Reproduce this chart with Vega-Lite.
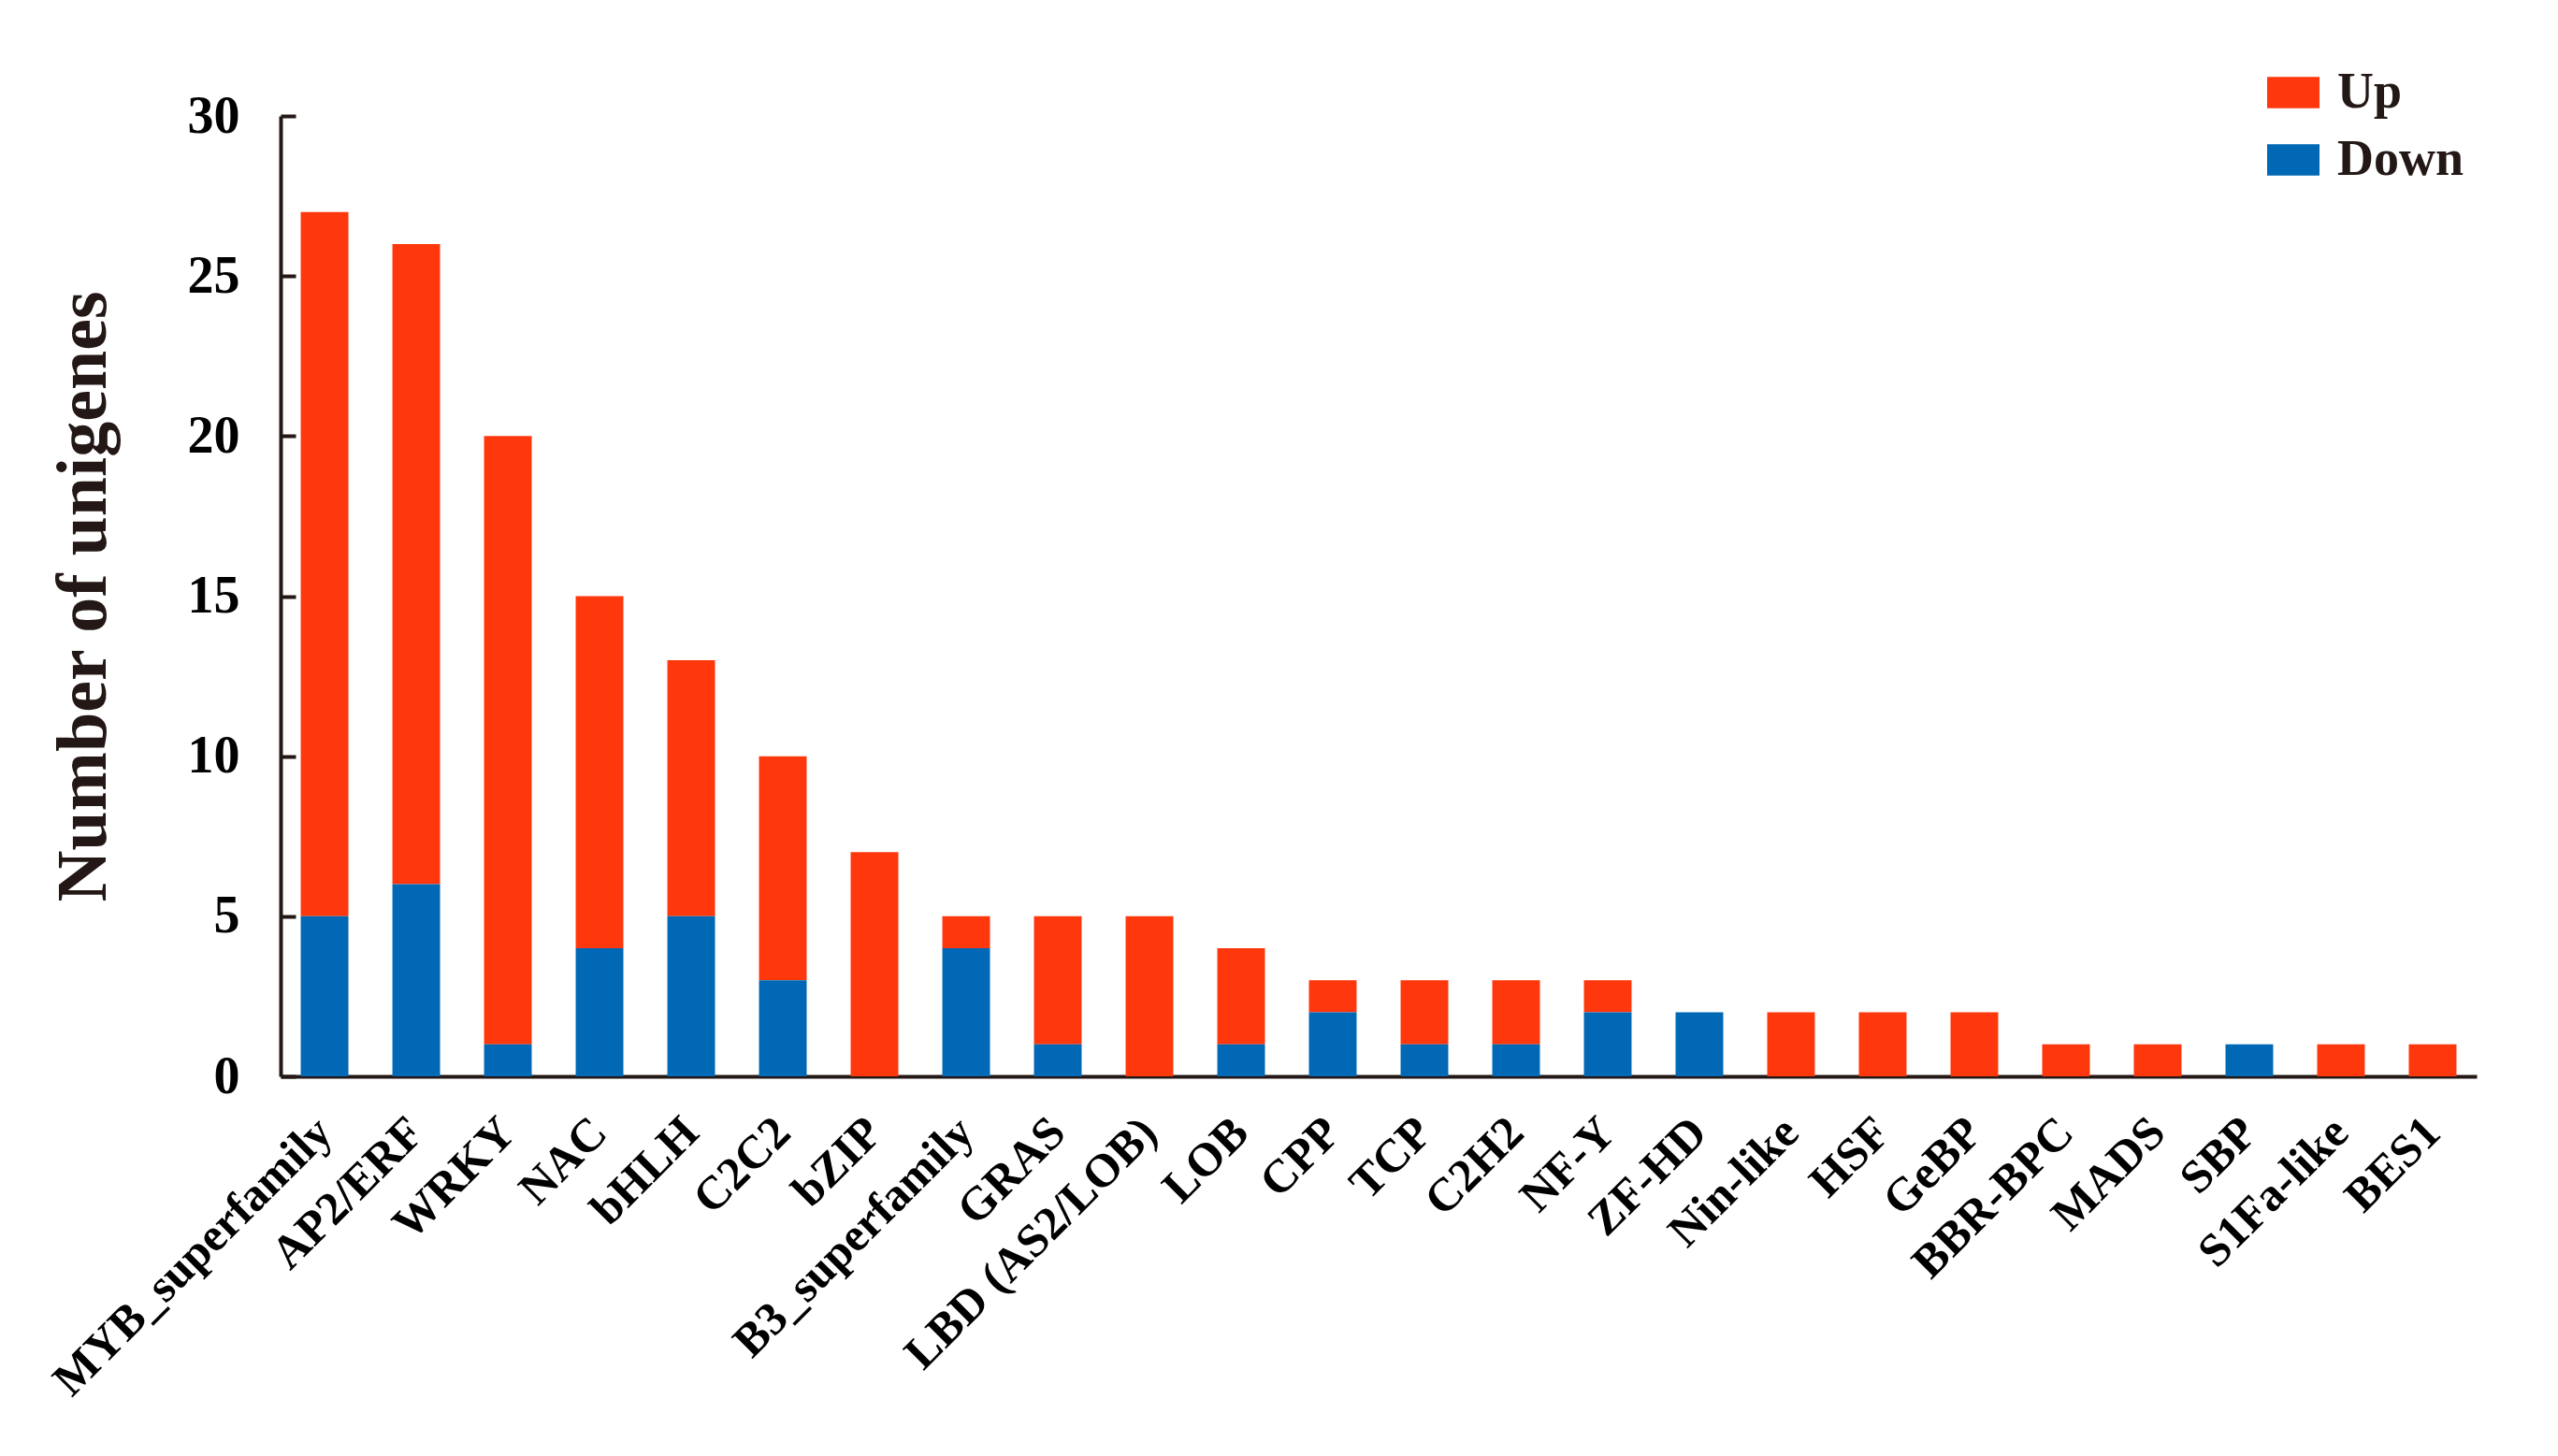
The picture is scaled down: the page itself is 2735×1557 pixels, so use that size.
{
  "$schema": "https://vega.github.io/schema/vega-lite/v6.json",
  "width": 2348,
  "height": 1027,
  "autosize": {"type": "none"},
  "padding": {"left": 300, "top": 124, "right": 87, "bottom": 406},
  "background": "white",
  "config": {
    "view": {"stroke": null},
    "font": "Liberation Serif"
  },
  "data": {
    "values": [
      {"family": "MYB_superfamily", "type": "Up", "count": 22},
      {"family": "MYB_superfamily", "type": "Down", "count": 5},
      {"family": "AP2/ERF", "type": "Up", "count": 20},
      {"family": "AP2/ERF", "type": "Down", "count": 6},
      {"family": "WRKY", "type": "Up", "count": 19},
      {"family": "WRKY", "type": "Down", "count": 1},
      {"family": "NAC", "type": "Up", "count": 11},
      {"family": "NAC", "type": "Down", "count": 4},
      {"family": "bHLH", "type": "Up", "count": 8},
      {"family": "bHLH", "type": "Down", "count": 5},
      {"family": "C2C2", "type": "Up", "count": 7},
      {"family": "C2C2", "type": "Down", "count": 3},
      {"family": "bZIP", "type": "Up", "count": 7},
      {"family": "bZIP", "type": "Down", "count": 0},
      {"family": "B3_superfamily", "type": "Up", "count": 1},
      {"family": "B3_superfamily", "type": "Down", "count": 4},
      {"family": "GRAS", "type": "Up", "count": 4},
      {"family": "GRAS", "type": "Down", "count": 1},
      {"family": "LBD (AS2/LOB)", "type": "Up", "count": 5},
      {"family": "LBD (AS2/LOB)", "type": "Down", "count": 0},
      {"family": "LOB", "type": "Up", "count": 3},
      {"family": "LOB", "type": "Down", "count": 1},
      {"family": "CPP", "type": "Up", "count": 1},
      {"family": "CPP", "type": "Down", "count": 2},
      {"family": "TCP", "type": "Up", "count": 2},
      {"family": "TCP", "type": "Down", "count": 1},
      {"family": "C2H2", "type": "Up", "count": 2},
      {"family": "C2H2", "type": "Down", "count": 1},
      {"family": "NF-Y", "type": "Up", "count": 1},
      {"family": "NF-Y", "type": "Down", "count": 2},
      {"family": "ZF-HD", "type": "Up", "count": 0},
      {"family": "ZF-HD", "type": "Down", "count": 2},
      {"family": "Nin-like", "type": "Up", "count": 2},
      {"family": "Nin-like", "type": "Down", "count": 0},
      {"family": "HSF", "type": "Up", "count": 2},
      {"family": "HSF", "type": "Down", "count": 0},
      {"family": "GeBP", "type": "Up", "count": 2},
      {"family": "GeBP", "type": "Down", "count": 0},
      {"family": "BBR-BPC", "type": "Up", "count": 1},
      {"family": "BBR-BPC", "type": "Down", "count": 0},
      {"family": "MADS", "type": "Up", "count": 1},
      {"family": "MADS", "type": "Down", "count": 0},
      {"family": "SBP", "type": "Up", "count": 0},
      {"family": "SBP", "type": "Down", "count": 1},
      {"family": "S1Fa-like", "type": "Up", "count": 1},
      {"family": "S1Fa-like", "type": "Down", "count": 0},
      {"family": "BES1", "type": "Up", "count": 1},
      {"family": "BES1", "type": "Down", "count": 0}
    ]
  },
  "mark": {"type": "bar"},
  "encoding": {
    "x": {
      "field": "family",
      "type": "nominal",
      "sort": null,
      "scale": {"paddingInner": 0.48, "paddingOuter": 0.22},
      "axis": {
        "title": null,
        "labelAngle": -45,
        "labelAlign": "right",
        "labelBaseline": "middle",
        "labelFont": "Liberation Serif",
        "labelFontWeight": "bold",
        "labelFontSize": 50,
        "labelColor": "#000000",
        "labelPadding": 52,
        "ticks": false,
        "domainColor": "#231815",
        "domainWidth": 4,
        "labelOverlap": false,
        "labelLimit": 1000
      }
    },
    "y": {
      "field": "count",
      "type": "quantitative",
      "stack": "zero",
      "scale": {"domain": [0, 30], "nice": false},
      "axis": {
        "title": "Number of unigenes",
        "titleFont": "Liberation Serif",
        "titleFontWeight": "bold",
        "titleFontSize": 76,
        "titleColor": "#231815",
        "titlePadding": 72,
        "values": [0, 5, 10, 15, 20, 25, 30],
        "grid": false,
        "labelFont": "Liberation Serif",
        "labelFontWeight": "bold",
        "labelFontSize": 56,
        "labelColor": "#000000",
        "labelPadding": 60,
        "tickSize": -16,
        "tickWidth": 4,
        "tickColor": "#231815",
        "domainColor": "#231815",
        "domainWidth": 4
      }
    },
    "color": {
      "field": "type",
      "type": "nominal",
      "scale": {"domain": ["Up", "Down"], "range": ["#FF370D", "#0068B4"]},
      "legend": {
        "title": null,
        "orient": "none",
        "legendX": 2124,
        "legendY": -53,
        "padding": 0,
        "symbolType": "M-1,-0.6H1V0.6H-1Z",
        "symbolSize": 3136,
        "symbolStrokeWidth": 0,
        "labelFont": "Liberation Serif",
        "labelFontWeight": "bold",
        "labelFontSize": 54,
        "labelColor": "#231815",
        "labelOffset": 19,
        "rowPadding": 17
      }
    },
    "order": {"field": "type", "sort": "ascending"}
  }
}
